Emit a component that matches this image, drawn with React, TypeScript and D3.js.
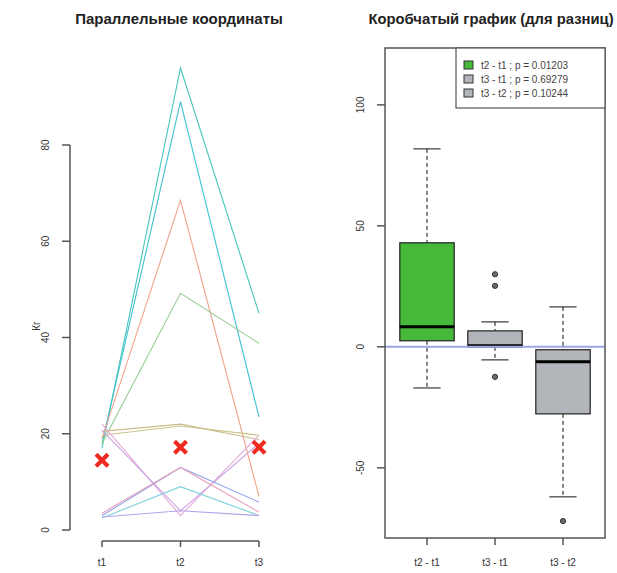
import React from 'react';
import * as d3 from 'd3';

// left panel: parallel coordinates
const timePoints = ['t1', 't2', 't3'];
const subjectValues = [
  [17, 96, 45],
  [18, 89, 23.5],
  [19, 68.5, 7],
  [18, 49.2, 38.8],
  [19.7, 21.6, 19.7],
  [20.5, 22, 18.8],
  [22, 3, 19.7],
  [20.7, 4, 18],
  [3, 13, 5.8],
  [2.5, 9, 3],
  [2.7, 4, 3],
  [3.5, 13, 3.7],
];
const subjectColors = [
  '#45c6bc', '#3ec0cc', '#f0a48c', '#9ccf98', '#c9c48a', '#cbbb8c',
  '#e6a8da', '#caa2e2', '#8ea2ea', '#7fd0de', '#b3a3ea', '#eaa4bc',
];
const medianMarks = [14.5, 17.2, 17.2];
const leftTicks = [0, 20, 40, 60, 80];

// right panel: boxplot of differences
const diffLabels = ['t2 - t1', 't3 - t1', 't3 - t2'];
const boxLow = [-17, -5.4, -62];
const boxQ1 = [2.5, 0, -27.7];
const boxMedian = [8.3, 0.4, -6.2];
const boxQ3 = [43, 6.6, -1.2];
const boxHigh = [81.8, 10.3, 16.5];
const boxOutliers = [[], [30, 25.2, -12.4], [-72]];
const boxFills = ['#46b83a', '#b2b5b9', '#b2b5b9'];
const pValues = ['0.01203', '0.69279', '0.10244'];
const rightTicks = [-50, 0, 50, 100];

const axisColor = '#555';
const textColor = '#333';
const font = '"Liberation Sans", Arial, sans-serif';

function LeftPanel() {
  const x = d3.scalePoint<string>().domain(timePoints).range([102, 259]);
  const y = d3.scaleLinear().domain([0, 80]).range([530, 145]);
  const line = d3
    .line<number>()
    .x((_, i) => x(timePoints[i]) as number)
    .y((d) => y(d));
  const xAxisY = 541;
  return (
    <g>
      <text x={179} y={24} textAnchor="middle" fontSize={15} fontWeight="bold" fill="#222">
        Параллельные координаты
      </text>
      {subjectValues.map((vals, i) => (
        <path key={i} d={line(vals) || ''} fill="none" stroke={subjectColors[i]} strokeWidth={1.1} />
      ))}
      {medianMarks.map((v, i) => {
        const cx = x(timePoints[i]) as number;
        const cy = y(v);
        const s = 6;
        return (
          <g key={i} stroke="#f02a1e" strokeWidth={4} strokeLinecap="butt">
            <line x1={cx - s} y1={cy - s} x2={cx + s} y2={cy + s} />
            <line x1={cx - s} y1={cy + s} x2={cx + s} y2={cy - s} />
          </g>
        );
      })}
      {/* y axis */}
      <line x1={70} x2={70} y1={y(0)} y2={y(80)} stroke={axisColor} strokeWidth={1.5} />
      {leftTicks.map((t) => (
        <g key={t}>
          <line x1={62} x2={70} y1={y(t)} y2={y(t)} stroke={axisColor} strokeWidth={1.5} />
          <text
            transform={`translate(49,${y(t)}) rotate(-90)`}
            textAnchor="middle"
            fontSize={10}
            fill={textColor}
          >
            {t}
          </text>
        </g>
      ))}
      <text transform={`translate(40,326) rotate(-90)`} textAnchor="middle" fontSize={10} fill={textColor}>
        Кг
      </text>
      {/* x axis */}
      <line
        x1={x('t1') as number}
        x2={x('t3') as number}
        y1={xAxisY}
        y2={xAxisY}
        stroke={axisColor}
        strokeWidth={1.5}
      />
      {timePoints.map((t) => (
        <g key={t}>
          <line x1={x(t) as number} x2={x(t) as number} y1={xAxisY} y2={xAxisY + 6} stroke={axisColor} strokeWidth={1.5} />
          <text x={x(t) as number} y={566} textAnchor="middle" fontSize={10} fill={textColor}>
            {t}
          </text>
        </g>
      ))}
    </g>
  );
}

function RightPanel() {
  const left = 385;
  const right = 605;
  const top = 48;
  const bottom = 538;
  const y = d3.scaleLinear().domain([-79, 123.5]).range([bottom, top]);
  const x = d3
    .scaleBand<string>()
    .domain(diffLabels)
    .range([393, 597])
    .paddingInner(0.2)
    .paddingOuter(0.1);
  const bw = x.bandwidth();
  return (
    <g>
      <text x={491} y={24} textAnchor="middle" fontSize={14.8} fontWeight="bold" fill="#222">
        Коробчатый график (для разниц)
      </text>
      {diffLabels.map((lab, i) => {
        const x0 = x(lab) as number;
        const cx = x0 + bw / 2;
        return (
          <g key={lab}>
            <line x1={cx} x2={cx} y1={y(boxHigh[i])} y2={y(boxQ3[i])} stroke="#111" strokeDasharray="4,3" />
            <line x1={cx} x2={cx} y1={y(boxQ1[i])} y2={y(boxLow[i])} stroke="#111" strokeDasharray="4,3" />
            <line x1={cx - bw / 4} x2={cx + bw / 4} y1={y(boxHigh[i])} y2={y(boxHigh[i])} stroke="#111" />
            <line x1={cx - bw / 4} x2={cx + bw / 4} y1={y(boxLow[i])} y2={y(boxLow[i])} stroke="#111" />
            <rect
              x={x0}
              y={y(boxQ3[i])}
              width={bw}
              height={y(boxQ1[i]) - y(boxQ3[i])}
              fill={boxFills[i]}
              stroke="#222"
              strokeWidth={1.2}
            />
            <line x1={x0} x2={x0 + bw} y1={y(boxMedian[i])} y2={y(boxMedian[i])} stroke="#000" strokeWidth={3} />
            {boxOutliers[i].map((o, j) => (
              <circle key={j} cx={cx} cy={y(o)} r={2.6} fill="#6a6a6a" stroke="#333" strokeWidth={1} />
            ))}
          </g>
        );
      })}
      <line x1={left} x2={right} y1={y(0)} y2={y(0)} stroke="#9aa6e6" strokeWidth={2} />
      <rect x={left} y={top} width={right - left} height={bottom - top} fill="none" stroke={axisColor} strokeWidth={1.5} />
      {rightTicks.map((t) => (
        <g key={t}>
          <line x1={left - 8} x2={left} y1={y(t)} y2={y(t)} stroke={axisColor} strokeWidth={1.5} />
          <text
            transform={`translate(364,${y(t)}) rotate(-90)`}
            textAnchor="middle"
            fontSize={10}
            fill={textColor}
          >
            {t}
          </text>
        </g>
      ))}
      {diffLabels.map((lab) => {
        const cx = (x(lab) as number) + bw / 2;
        return (
          <g key={lab}>
            <line x1={cx} x2={cx} y1={bottom} y2={bottom + 7} stroke={axisColor} strokeWidth={1.5} />
            <text x={cx} y={566} textAnchor="middle" fontSize={10} fill={textColor}>
              {lab}
            </text>
          </g>
        );
      })}
      {/* legend */}
      <rect x={456} y={top} width={right - 456} height={60} fill="#fff" stroke={axisColor} strokeWidth={1.2} />
      {diffLabels.map((lab, i) => (
        <g key={lab}>
          <rect x={464} y={61 + i * 14} width={9} height={8} fill={boxFills[i]} stroke="#333" strokeWidth={1} />
          <text x={481} y={69 + i * 14} fontSize={10} fill="#444">
            {`${lab} ; p = ${pValues[i]}`}
          </text>
        </g>
      ))}
    </g>
  );
}

export default function App() {
  return (
    <svg
      width={617}
      height={573}
      style={{ position: 'absolute', left: 0, top: 0, display: 'block', fontFamily: font, background: '#fff' }}
    >
      <LeftPanel />
      <RightPanel />
    </svg>
  );
}
